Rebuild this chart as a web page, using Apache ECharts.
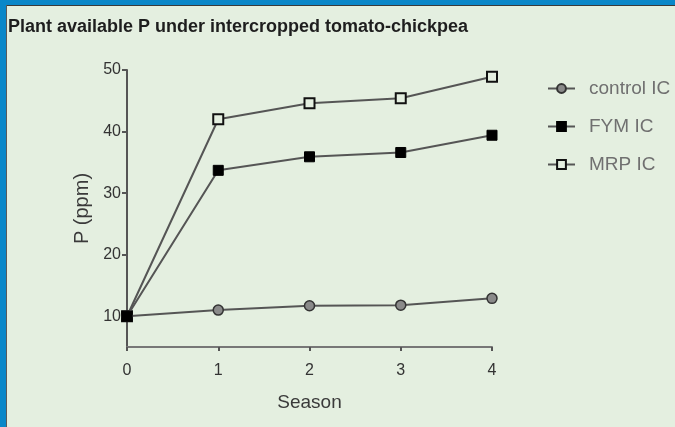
<!DOCTYPE html>
<html>
<head>
<meta charset="utf-8">
<script src="https://cdn.jsdelivr.net/npm/echarts@6/dist/echarts.min.js"></script>
<style>
  html, body { margin: 0; padding: 0; background: #e4efe0; }
  #main { width: 675px; height: 427px; }
</style>
</head>
<body>
<div id="main"></div>
<script>
var myChart = echarts.init(document.getElementById('main'));

var seasons = [0, 1, 2, 3, 4];
var controlIC = [10, 11.0, 11.7, 11.8, 12.9];
var fymIC = [10, 33.7, 35.9, 36.6, 39.4];
var mrpIC = [10, 42.0, 44.6, 45.4, 48.9];
var yTicks = [10, 20, 30, 40, 50];

function pairs(vals) {
  return seasons.map(function (s, i) { return [s, vals[i]]; });
}

var lineStyle = { color: '#555', width: 2 };

var option = {
  backgroundColor: '#e4efe0',
  textStyle: { fontFamily: 'Liberation Sans' },
  title: {
    text: 'Plant available P under intercropped tomato-chickpea',
    left: 3,
    top: 13,
    textStyle: { fontSize: 18, fontWeight: 'bold', color: '#1e1e1e', fontFamily: 'Liberation Sans' }
  },
  graphic: [
    { type: 'rect', shape: { x: 0, y: 0, width: 675, height: 5 }, style: { fill: '#0a87c9' } },
    { type: 'rect', shape: { x: 0, y: 0, width: 6, height: 427 }, style: { fill: '#0a87c9' } },
    { type: 'rect', shape: { x: 6, y: 5, width: 669, height: 1 }, style: { fill: '#3a3a3a' } },
    { type: 'rect', shape: { x: 6, y: 5, width: 1, height: 422 }, style: { fill: '#5a5a5a' } }
  ],
  legend: {
    orient: 'vertical',
    left: 542,
    top: 74,
    itemWidth: 27,
    itemHeight: 11,
    itemGap: 19,
    textStyle: { fontSize: 19, color: '#707070', padding: [0, 0, 0, 9] },
    data: ['control IC', 'FYM IC', 'MRP IC']
  },
  grid: { left: 127, right: 183, top: 70, bottom: 80 },
  xAxis: {
    type: 'value',
    min: 0,
    max: 4,
    interval: 1,
    name: 'Season',
    nameLocation: 'middle',
    nameGap: 46,
    nameTextStyle: { fontSize: 19, color: '#3a3a3a' },
    axisLine: { lineStyle: { color: '#777', width: 2 } },
    axisTick: { length: 4, lineStyle: { color: '#555', width: 2 } },
    axisLabel: { fontSize: 16, color: '#333', margin: 16 },
    splitLine: { show: false }
  },
  yAxis: {
    type: 'value',
    min: 5,
    max: 50,
    name: 'P (ppm)',
    nameLocation: 'middle',
    nameGap: 35,
    nameTextStyle: { fontSize: 20, color: '#3a3a3a' },
    axisLine: { show: true, lineStyle: { color: '#555', width: 2 } },
    axisTick: { show: true, length: 5, customValues: yTicks, lineStyle: { color: '#555', width: 2 } },
    axisLabel: { fontSize: 16, color: '#333', margin: 6, customValues: yTicks },
    splitLine: { show: false }
  },
  series: [
    {
      name: 'control IC',
      type: 'line',
      data: pairs(controlIC),
      symbol: 'circle',
      symbolSize: 10,
      lineStyle: lineStyle,
      itemStyle: { color: '#8a8a8a', borderColor: '#333', borderWidth: 1.5 },
      z: 3
    },
    {
      name: 'FYM IC',
      type: 'line',
      data: pairs(fymIC),
      symbol: 'rect',
      symbolSize: 10,
      lineStyle: lineStyle,
      itemStyle: { color: '#000', borderColor: '#000', borderWidth: 1 },
      z: 4
    },
    {
      name: 'MRP IC',
      type: 'line',
      data: pairs(mrpIC),
      symbol: 'rect',
      symbolSize: 10,
      lineStyle: lineStyle,
      itemStyle: { color: '#e4efe0', borderColor: '#111', borderWidth: 2 },
      z: 2
    }
  ]
};

myChart.setOption(option);
</script>
</body>
</html>
